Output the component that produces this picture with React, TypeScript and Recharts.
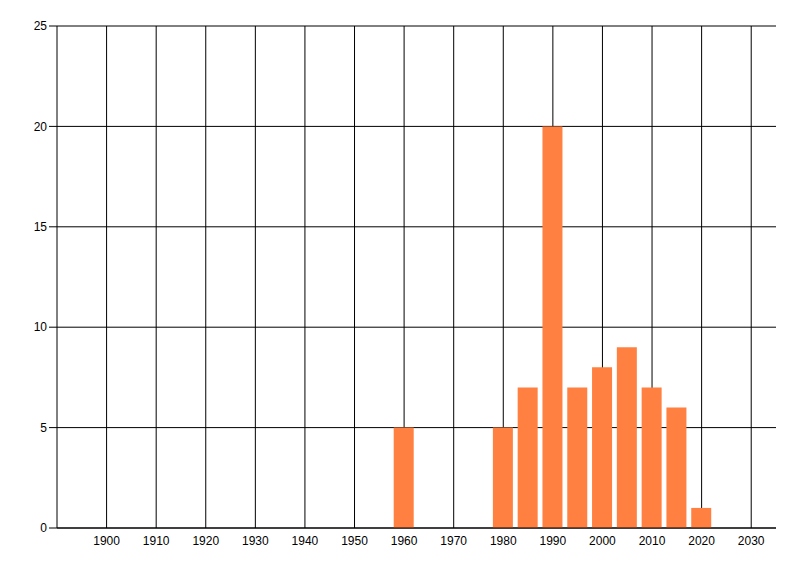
import React from 'react';
import { BarChart, Bar, XAxis, YAxis, CartesianGrid } from 'recharts';

const years = [1960, 1980, 1985, 1990, 1995, 2000, 2005, 2010, 2015, 2020];
const counts = [5, 5, 7, 20, 7, 8, 9, 7, 6, 1];
const xTicks = [1900, 1910, 1920, 1930, 1940, 1950, 1960, 1970, 1980, 1990, 2000, 2010, 2020, 2030];
const yTicks = [0, 5, 10, 15, 20, 25];

const data = years.map((y, i) => ({ year: y, count: counts[i] }));

const CHART_W = 800;
const CHART_H = 576;
const MARGIN = { top: 26, right: 24, bottom: 28, left: 0 };
const Y_AXIS_W = 57;
const X_DOMAIN: [number, number] = [1890, 2035];

const plotLeft = MARGIN.left + Y_AXIS_W;
const plotWidth = CHART_W - plotLeft - MARGIN.right;
const xScale = (t: number) => plotLeft + ((t - X_DOMAIN[0]) / (X_DOMAIN[1] - X_DOMAIN[0])) * plotWidth;
const verticalGridPoints = xTicks.map(xScale);

const tickStyle = { fill: '#000', fontSize: 12, fontFamily: '"Liberation Sans Narrow", "Arial Narrow", "Liberation Sans", Arial, sans-serif' };

export default function App() {
  return (
    <div style={{ position: 'absolute', left: 0, top: 0, background: '#fff' }}>
      <BarChart width={CHART_W} height={CHART_H} data={data} margin={MARGIN}>
        <CartesianGrid stroke="#000" strokeWidth={1} vertical={false} />
        <CartesianGrid stroke="#000" strokeWidth={1} horizontal={false} verticalPoints={verticalGridPoints} />
        <XAxis
          dataKey="year"
          type="number"
          domain={X_DOMAIN}
          ticks={xTicks}
          tickLine={false}
          axisLine={{ stroke: '#000' }}
          tick={tickStyle}
          height={20}
          allowDataOverflow
        />
        <YAxis
          type="number"
          domain={[0, 25]}
          ticks={yTicks}
          width={Y_AXIS_W}
          tickSize={8}
          tickLine={{ stroke: '#000' }}
          axisLine={{ stroke: '#000' }}
          tick={tickStyle}
        />
        <Bar dataKey="count" fill="#FF8040" barSize={20} isAnimationActive={false} />
      </BarChart>
    </div>
  );
}
